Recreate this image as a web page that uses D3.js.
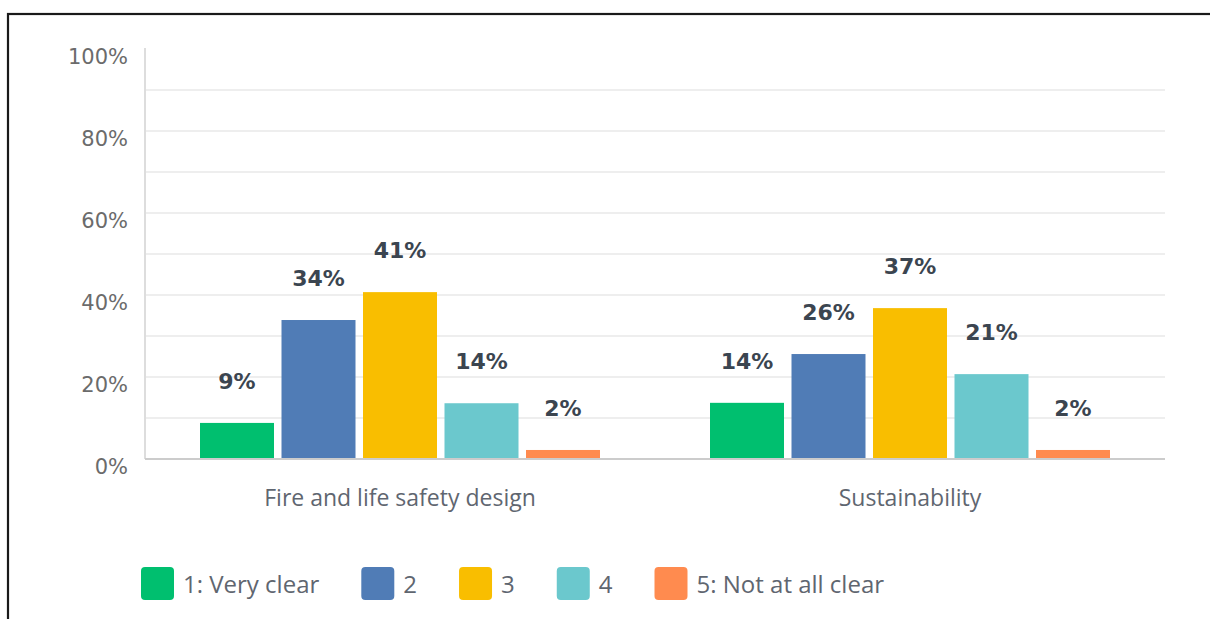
<!DOCTYPE html>
<html>
<head>
<meta charset="utf-8">
<script src="https://cdn.jsdelivr.net/npm/d3@7"></script>
<style>
  html, body { margin: 0; padding: 0; background: #fff; }
  svg { display: block; }
</style>
</head>
<body>
<svg id="chart" width="1210" height="619"></svg>
<script>
// ---- Data ----
const categories = ["Fire and life safety design", "Sustainability"];
const seriesNames = ["1: Very clear", "2", "3", "4", "5: Not at all clear"];
const seriesColors = ["#00bf6f", "#507cb6", "#f9be00", "#6bc8cd", "#ff8b4f"];
const fireValues = [8.8, 33.9, 40.7, 13.6, 2.2];
const sustainValues = [13.7, 25.6, 36.8, 20.7, 2.2];
const yTicks = [0, 20, 40, 60, 80, 100];
const gridTicks = [10, 20, 30, 40, 50, 60, 70, 80, 90];

const valuesByCategory = [fireValues, sustainValues];

const svg = d3.select("#chart");

// frame border
svg.append("rect")
  .attr("x", 8).attr("y", 14)
  .attr("width", 1250).attr("height", 700)
  .attr("fill", "none").attr("stroke", "#1a1a1a").attr("stroke-width", 2.2);

const plot = { left: 145, right: 1165, top: 49, bottom: 459 };

const y = d3.scaleLinear().domain([0, 100]).range([plot.bottom, plot.top]);
const x0 = d3.scaleBand().domain(categories).range([plot.left, plot.right]).padding(0);
const groupPad = 55;
const x1 = d3.scaleBand().domain(seriesNames)
  .range([groupPad, x0.bandwidth() - groupPad])
  .paddingInner(0.092).paddingOuter(0);

// gridlines
svg.append("g").selectAll("line").data(gridTicks).join("line")
  .attr("x1", plot.left).attr("x2", plot.right)
  .attr("y1", d => y(d)).attr("y2", d => y(d))
  .attr("stroke", "#eeeeee").attr("stroke-width", 2);

// y axis line
svg.append("line")
  .attr("x1", plot.left).attr("x2", plot.left)
  .attr("y1", plot.top - 1).attr("y2", plot.bottom)
  .attr("stroke", "#dddddd").attr("stroke-width", 2);

// y tick labels
svg.append("g").selectAll("text").data(yTicks).join("text")
  .attr("x", 128).attr("y", d => y(d) + 15)
  .attr("text-anchor", "end")
  .attr("font-family", "DejaVu Sans")
  .attr("font-size", 21)
  .attr("fill", "#6b6b6b")
  .text(d => d + "%");

// bars
const groups = svg.append("g").selectAll("g").data(categories).join("g")
  .attr("transform", d => `translate(${x0(d)},0)`);

groups.selectAll("rect")
  .data((d, i) => valuesByCategory[i].map((v, j) => ({ s: seriesNames[j], v, c: seriesColors[j] })))
  .join("rect")
  .attr("x", d => x1(d.s))
  .attr("width", x1.bandwidth())
  .attr("y", d => y(d.v))
  .attr("height", d => plot.bottom - y(d.v))
  .attr("fill", d => d.c);

groups.selectAll("text.val")
  .data((d, i) => valuesByCategory[i].map((v, j) => ({ s: seriesNames[j], v })))
  .join("text")
  .attr("class", "val")
  .attr("x", d => x1(d.s) + x1.bandwidth() / 2)
  .attr("y", d => y(d.v) - 34)
  .attr("text-anchor", "middle")
  .attr("font-family", "DejaVu Sans")
  .attr("font-weight", "bold")
  .attr("font-size", 22)
  .attr("fill", "#3b4550")
  .text(d => Math.round(d.v) + "%");

// baseline
svg.append("line")
  .attr("x1", plot.left).attr("x2", plot.right)
  .attr("y1", plot.bottom).attr("y2", plot.bottom)
  .attr("stroke", "#cccccc").attr("stroke-width", 2);

// category labels
svg.append("g").selectAll("text").data(categories).join("text")
  .attr("x", d => x0(d) + x0.bandwidth() / 2)
  .attr("y", 506)
  .attr("text-anchor", "middle")
  .attr("font-family", "Open Sans")
  .attr("font-size", 23)
  .attr("fill", "#5f6670")
  .text(d => d);

// legend
const legend = svg.append("g");
let lx = 141;
seriesNames.forEach((name, i) => {
  const g = legend.append("g").attr("transform", `translate(${lx},567)`);
  g.append("rect").attr("width", 33).attr("height", 33).attr("rx", 4)
    .attr("fill", seriesColors[i]);
  const t = g.append("text").attr("x", 42).attr("y", 26)
    .attr("font-family", "Open Sans").attr("font-size", 24)
    .attr("fill", "#5f6670").text(name);
  lx += 42 + t.node().getComputedTextLength() + 42;
});
</script>
</body>
</html>
